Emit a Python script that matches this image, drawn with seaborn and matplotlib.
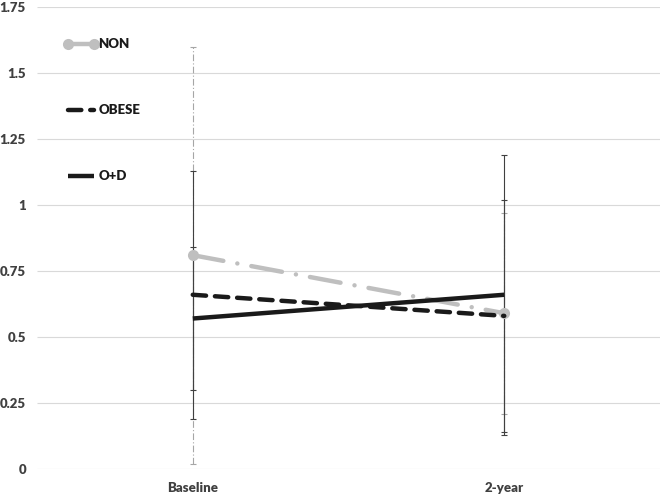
import matplotlib
matplotlib.use("Agg")
import matplotlib.pyplot as plt
import seaborn as sns
import pandas as pd

categories = ["Baseline", "2-year"]
groups = ["NON", "OBESE", "O+D"]
non_vals = [0.81, 0.59]
obese_vals = [0.66, 0.58]
od_vals = [0.57, 0.66]
non_err = [0.79, 0.38]
obese_err = [0.47, 0.44]
od_err = [0.27, 0.53]
y_ticks = [0, 0.25, 0.5, 0.75, 1, 1.25, 1.5, 1.75]
y_tick_labels = ["0", "0.25", "0.5", "0.75", "1", "1.25", "1.5", "1.75"]

sns.set_theme(style="white")
plt.rcParams["font.family"] = ["Lato", "DejaVu Sans"]
plt.rcParams["lines.dash_capstyle"] = "round"
plt.rcParams["lines.solid_capstyle"] = "butt"

fig = plt.figure(figsize=(6.64, 4.96), dpi=100)
ax = fig.add_axes([37 / 664, 27 / 496, (660 - 37) / 664, (469 - 7) / 496])

series = {
    "NON": (non_vals, non_err, "#BFBFBF", (0, (7, 3.2, 0.01, 3.2)), "o"),
    "OBESE": (obese_vals, obese_err, "#1A1A1A", (0, (3.0, 2.0)), None),
    "O+D": (od_vals, od_err, "#1A1A1A", "-", None),
}

# error bars first
for name in groups:
    vals, err, color, ls, mk = series[name]
    ebc = "#A6A6A6" if name == "NON" else "#404040"
    cont = ax.errorbar([0, 1], vals, yerr=err, fmt="none", ecolor=ebc,
                       elinewidth=0.8, capsize=2.2, capthick=0.8, zorder=2)
    if name == "NON":
        for lc in cont.lines[2]:
            lc.set_linestyle((0, (6, 2, 1, 2)))

for name in groups:
    vals, err, color, ls, mk = series[name]
    df = pd.DataFrame({"x": categories, "y": vals})
    kw = dict(color=color, linewidth=3.2, linestyle=ls, label=name, zorder=3)
    if mk:
        kw.update(marker="o", markersize=8, markeredgewidth=0)
    sns.lineplot(data=df, x="x", y="y", ax=ax, sort=False, **kw)

ax.set_xlim(-0.5, 1.5)
ax.set_ylim(0, 1.75)
ax.set_yticks(y_ticks)
ax.set_yticklabels(y_tick_labels)
ax.set_xlabel("")
ax.set_ylabel("")
for s in ax.spines.values():
    s.set_visible(False)
ax.grid(axis="y", color="#D9D9D9", linewidth=0.8)
ax.set_axisbelow(True)
ax.tick_params(axis="both", length=0, labelsize=9.5, labelcolor="#404040")
ax.tick_params(axis="x", pad=9)
ax.tick_params(axis="y", pad=8)
for t in ax.get_xticklabels() + ax.get_yticklabels():
    t.set_fontweight("heavy")

h, l = ax.get_legend_handles_labels()
leg = ax.legend(h, l, loc="upper left", bbox_to_anchor=(0.024, 0.958),
                frameon=False, numpoints=2, handlelength=2.6, handletextpad=0.0,
                labelspacing=4.1, prop={"weight": "heavy", "size": 9.5})
for t in leg.get_texts():
    t.set_color("#1A1A1A")

fig.savefig("out.png", dpi=100)
